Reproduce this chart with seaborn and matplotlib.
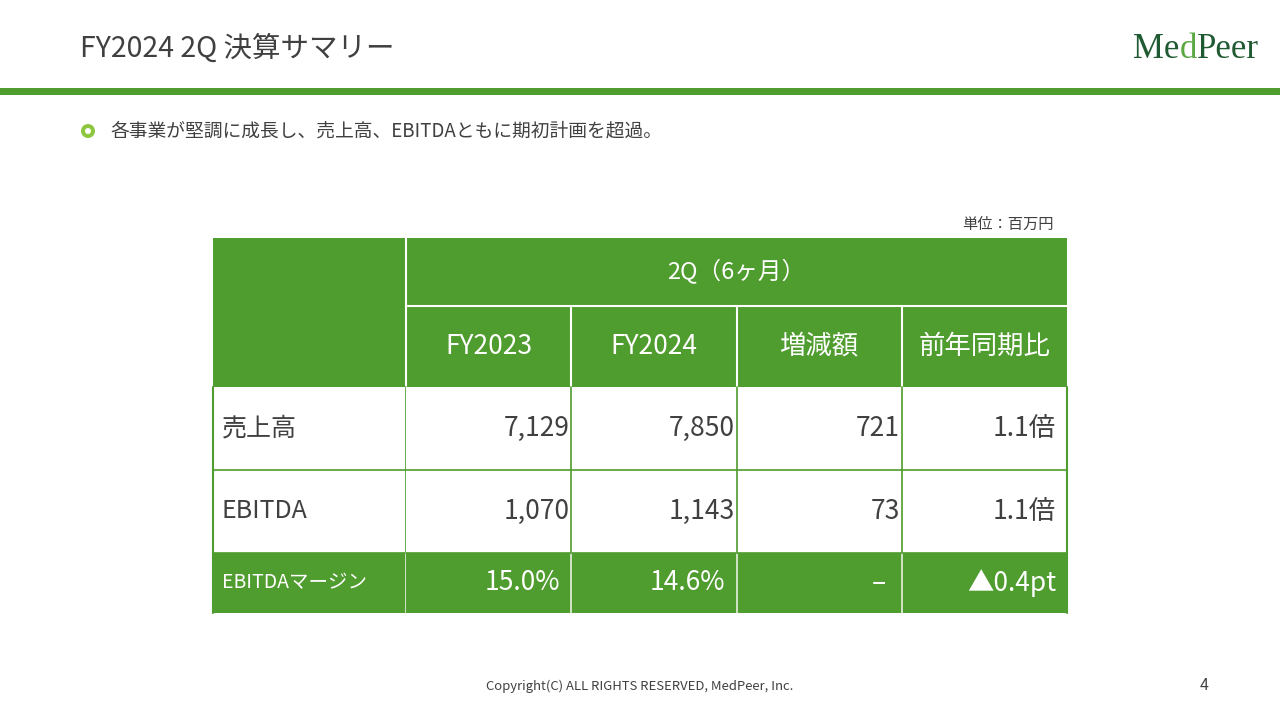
import matplotlib
matplotlib.use("Agg")
import matplotlib.pyplot as plt
from matplotlib.patches import Rectangle, Circle
from matplotlib.colors import ListedColormap
import numpy as np
import pandas as pd
import seaborn as sns

# ---------------- data ----------------
title = "FY2024 2Q 決算サマリー"
bullet = "各事業が堅調に成長し、売上高、EBITDAともに期初計画を超過。"
unit_label = "単位：百万円"
period_label = "2Q（6ヶ月）"
row_labels = ["売上高", "EBITDA", "EBITDAマージン"]
col_labels = ["FY2023", "FY2024", "増減額", "前年同期比"]
fy2023 = [7129, 1070, 15.0]
fy2024 = [7850, 1143, 14.6]
diff = ["721", "73", "–"]
yoy = ["1.1倍", "1.1倍", "▲0.4pt"]
highlight_rows = [0, 0, 1]   # 1 = green highlighted row

GREEN = "#4F9C2F"
LIGHT_GREEN = "#8DC63F"
TEXT = "#404040"

sns.set_theme(style="white")
plt.rcParams['font.family'] = ['Noto Sans CJK JP', 'DejaVu Sans']

fig = plt.figure(figsize=(12.8, 7.2), dpi=100)
ax0 = fig.add_axes([0, 0, 1, 1])
ax0.set_xlim(0, 1280)
ax0.set_ylim(720, 0)
ax0.axis("off")

# title & header bar
ax0.text(80, 49, title, fontsize=20.5, color=TEXT, va="center", ha="left")
ax0.add_patch(Rectangle((0, 88), 1280, 7, color=GREEN, lw=0))
# logo
logo_font = ["Liberation Serif", "DejaVu Serif"]
ax0.text(1133, 49, "Me", fontsize=25, color="#1F5A32", va="center", ha="left",
         family=logo_font)
ax0.text(1180, 49, "d", fontsize=25, color="#5BA843", va="center", ha="left",
         family=logo_font)
ax0.text(1197, 49, "Peer", fontsize=25, color="#1F5A32", va="center", ha="left",
         family=logo_font)

# bullet
ax0.add_patch(Circle((88, 131), 7, color=LIGHT_GREEN, lw=0))
ax0.add_patch(Circle((88, 131), 3, color="white", lw=0))
ax0.text(110, 131, bullet, fontsize=13.5, color=TEXT, va="center", ha="left")

ax0.text(1054, 224, unit_label, fontsize=11, color=TEXT, va="center", ha="right")

# table geometry (pixels)
L, C1, R = 213, 406, 1067
T, H1, H2 = 238, 306, 387
row_edges = [387, 470, 553, 613]

# header
ax0.add_patch(Rectangle((L, T), R - L, H2 - T, color=GREEN, lw=0))
ax0.plot([C1, C1], [T, H2], color="white", lw=1.5)
ax0.plot([C1, R], [H1, H1], color="white", lw=1.5)
ax0.text((C1 + R) / 2, (T + H1) / 2, period_label, fontsize=17, color="white",
         ha="center", va="center")
col_w = (R - C1) / len(col_labels)
for j, lab in enumerate(col_labels):
    x0 = C1 + j * col_w
    if j > 0:
        ax0.plot([x0, x0], [H1, H2], color="white", lw=1.5)
    ax0.text(x0 + col_w / 2, (H1 + H2) / 2, lab, fontsize=19, color="white",
             ha="center", va="center")

# label column
for i, lab in enumerate(row_labels):
    y0, y1 = row_edges[i], row_edges[i + 1]
    hl = highlight_rows[i]
    ax0.add_patch(Rectangle((L, y0), C1 - L, y1 - y0,
                            color=GREEN if hl else "white", lw=0))
    ax0.text(L + 9, (y0 + y1) / 2, lab, fontsize=14 if hl else 18,
             color="white" if hl else TEXT, ha="left", va="center")

# numeric body as heatmap
def fmt_val(v, hl):
    return f"{v:.1f}%" if hl else f"{v:,.0f}"

cells = []
for i in range(len(row_labels)):
    hl = highlight_rows[i]
    cells.append([fmt_val(fy2023[i], hl), fmt_val(fy2024[i], hl), diff[i], yoy[i]])

color_df = pd.DataFrame([[h] * len(col_labels) for h in highlight_rows],
                        index=row_labels, columns=col_labels)

axb = fig.add_axes([C1 / 1280, 1 - row_edges[-1] / 720,
                    (R - C1) / 1280, (row_edges[-1] - row_edges[0]) / 720])
sns.heatmap(color_df, ax=axb, cmap=ListedColormap(["white", GREEN]), vmin=0, vmax=1,
            cbar=False, linewidths=0, xticklabels=False, yticklabels=False)
# uneven row heights: rebuild mesh with pixel edges
axb.collections[0].remove()
ys = np.array(row_edges, dtype=float)
xs = np.array([C1 + j * col_w for j in range(len(col_labels) + 1)])
axb.pcolormesh(xs, ys, color_df.values, cmap=ListedColormap(["white", GREEN]),
               vmin=0, vmax=1, shading="flat")
axb.set_xlim(C1, R)
axb.set_ylim(row_edges[-1], row_edges[0])
axb.axis("off")

for i in range(len(row_labels)):
    y0, y1 = row_edges[i], row_edges[i + 1]
    hl = highlight_rows[i]
    for j in range(len(col_labels)):
        xr = xs[j + 1]
        pad = 11 if (hl or j == len(col_labels) - 1) else 2
        if hl and j == 2:
            pad = 16
        axb.text(xr - pad, (y0 + y1) / 2, cells[i][j], fontsize=19,
                 color="white" if hl else TEXT, ha="right", va="center")

# grid lines
for j in range(1, len(col_labels)):
    for i in range(len(row_labels)):
        hl = highlight_rows[i]
        axb.plot([xs[j], xs[j]], [row_edges[i], row_edges[i + 1]],
                 color="#E8F0E0" if hl else GREEN, lw=1.2, clip_on=False)
for i in range(len(row_labels)):
    hl = highlight_rows[i]
    ax0.plot([C1, C1], [row_edges[i], row_edges[i + 1]],
             color="#E8F0E0" if hl else GREEN, lw=1.2, zorder=5)
for y in row_edges[1:-1]:
    ax0.plot([L, R], [y, y], color=GREEN, lw=1.2, zorder=1)
axb.plot([C1, R], [row_edges[1], row_edges[1]], color=GREEN, lw=1.2, clip_on=False)
axb.plot([C1, R], [row_edges[2], row_edges[2]], color=GREEN, lw=1.2, clip_on=False)
ax0.plot([L, L], [row_edges[0], row_edges[-1]], color=GREEN, lw=1.5)
axb.plot([R, R], [row_edges[0], row_edges[-1]], color=GREEN, lw=1.5, clip_on=False)

# footer
ax0.text(640, 686, "Copyright(C) ALL RIGHTS RESERVED, MedPeer, Inc.", fontsize=9.4,
         color=TEXT, ha="center", va="center")
ax0.text(1204, 685, "4", fontsize=11.5, color=TEXT, ha="center", va="center")

fig.savefig("out.png", dpi=100, facecolor="white")
